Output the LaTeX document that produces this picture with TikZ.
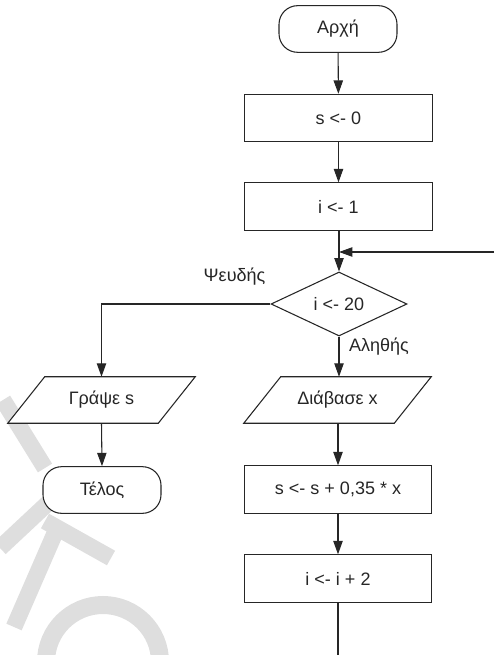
\documentclass[tikz,border=0pt]{standalone}
\usepackage{fontspec}
\setmainfont{Liberation Sans}
\usetikzlibrary{shapes.geometric,arrows.meta}
\pgfdeclarelayer{logo}
\pgfdeclarelayer{frames}
\pgfsetlayers{logo,frames,main}
\begin{document}
\begin{tikzpicture}[x=0.75pt,y=-0.75pt,
  font=\fontsize{13.5}{16}\selectfont,
  base/.style={draw=black!85, fill=white, line width=0.8pt, inner sep=0pt, text=black!85},
  procbox/.style={base, rectangle, minimum width=140.5pt, minimum height=35.5pt},
  term/.style={base, rectangle, rounded corners=14pt, minimum width=88.5pt, minimum height=35pt},
  decision/.style={base, diamond, minimum width=102pt, minimum height=48pt},
  iobody/.style={rectangle, inner sep=0pt, text=black!85, minimum width=112.5pt, minimum height=34.5pt},
  ioframe/.style={draw=black!85, fill=white, line width=0.8pt, line join=miter},
  flow/.style={draw=black!85, line width=0.8pt, -{Triangle[length=10pt,width=7pt]}},
  plain/.style={draw=black!85, line width=0.8pt},
  lbl/.style={text=black!85, inner sep=0pt},
  wmark/.style={draw=black!13, line width=12.5pt}
]
\useasboundingbox (0,0) rectangle (494,655);

% faint background logo
\begin{pgfonlayer}{logo}
\draw[wmark] (3,400) -- (45,468);
\draw[wmark] (0,548) -- (62,490);
\draw[wmark] (58,526) -- (14,627);
\draw[wmark] (45,521) -- (111,558);
\draw[wmark, line width=13.5pt] (103,662) circle[radius=57];
\end{pgfonlayer}

% nodes
\node[term]     (start) at (338,29)    {Αρχή};
\node[procbox]  (s0)    at (338.5,118) {s <- 0};
\node[procbox]  (i1)    at (338.5,206.5) {i <- 1};
\node[decision] (cond)  at (339,304)   {i <- 20};
\node[iobody]   (write) at (101.5,400) {Γράψε s};
\node[term]     (stop)  at (102,490)   {Τέλος};
\node[iobody]   (read)  at (337.5,400) {Διάβασε x};
\node[procbox]  (acc)   at (338,489.5) {s <- s + 0,35 * x};
\node[procbox]  (inc)   at (338,578.5) {i <- i + 2};

% slanted input/output frames behind their text
\begin{pgfonlayer}{frames}
\foreach \n in {write,read}
  \draw[ioframe] ([xshift=-13.875pt]\n.south west) -- ([xshift=13.875pt]\n.north west)
    -- ([xshift=13.875pt]\n.north east) -- ([xshift=-13.875pt]\n.south east) -- cycle;
\end{pgfonlayer}

\node[lbl] (no)  at (234.5,277) {Ψευδής};
\node[lbl] (yes) at (379,347)   {Αληθής};

% loop ends
\coordinate (back)  at (494,252);
\coordinate (join)  at (339,252);
\coordinate (down)  at (338,655);

% connectors
\draw[flow] (start) -- (s0);
\draw[flow] (s0) -- (i1);
\draw[flow] (i1.south -| cond.north) -- (cond.north);
\draw[flow] (back) -- (join);
\draw[flow] (cond.west) -| (write.north);
\draw[flow] (write.south) -- (stop.north);
\draw[flow] (cond.south) -- (read.north -| cond.south);
\draw[flow] (read.south -| acc.north) -- (acc.north);
\draw[flow] (acc) -- (inc);
\draw[plain] (inc.south) -- (down);
\end{tikzpicture}
\end{document}
